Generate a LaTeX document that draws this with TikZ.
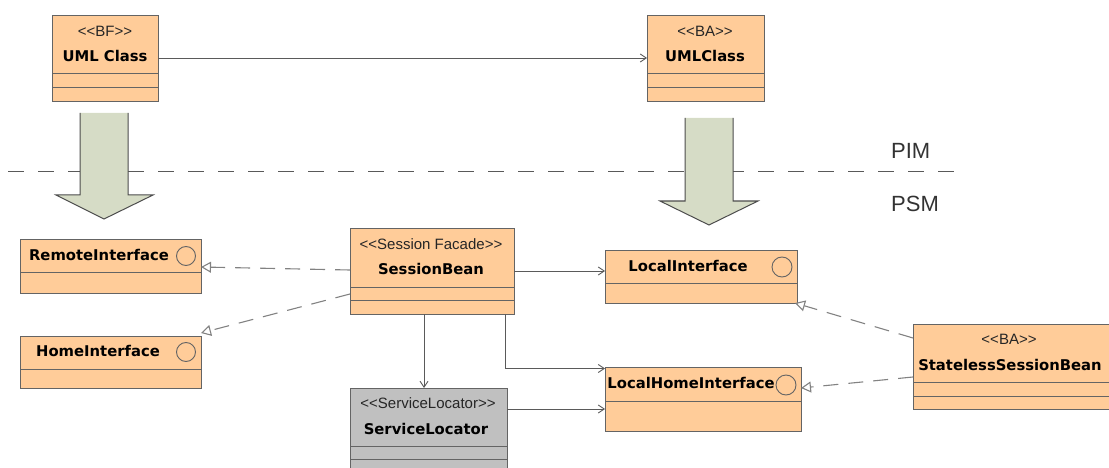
\documentclass[tikz,border=0pt]{standalone}
\usepackage{fontspec}
\setmainfont{Liberation Sans}
\newfontfamily\namefamily{DejaVu Sans}
\usetikzlibrary{arrows.meta}

\definecolor{peach}{RGB}{255,204,153}
\definecolor{boxline}{RGB}{100,100,100}
\definecolor{linegray}{RGB}{90,90,90}
\definecolor{dashgray}{RGB}{130,130,130}
\definecolor{bigfill}{RGB}{214,220,198}
\definecolor{locgray}{RGB}{192,192,192}

% stereotype text with guillemet-free double chevrons
\newcommand\stereo[1]{<\kern0pt<#1>\kern0pt>}
% horizontal compartment separator inside a class box
\newcommand\compline[2]{\draw[comp] ([yshift=-#2pt]#1.north west) -- ([yshift=-#2pt]#1.north east);}

\begin{document}
\begin{tikzpicture}[x=1pt,y=-1pt,
  cls/.style={draw=boxline, fill=peach, line width=0.9pt, inner sep=0pt, outer sep=0pt, anchor=north west},
  comp/.style={draw=boxline, line width=0.9pt},
  nm/.style={font=\namefamily\bfseries\fontsize{14.8}{17}\selectfont, inner sep=0pt},
  st/.style={font=\fontsize{15}{17}\selectfont, text=black!85, inner sep=0pt},
  iface/.style={circle, draw=boxline, line width=0.9pt, minimum size=19pt, inner sep=0pt},
  assoc/.style={draw=linegray, line width=0.9pt, -{Straight Barb[length=6pt,width=8pt]}},
  real/.style={draw=dashgray, line width=1.1pt, dash pattern=on 15pt off 10pt,
    -{Triangle[open,length=10pt,width=11pt,fill=white]}},
  layer/.style={draw=black!65, line width=1pt, dash pattern=on 16pt off 14pt},
  bigarrow/.style={fill=bigfill, draw=black!70, line width=1pt, line join=miter},
  lvl/.style={font=\fontsize{22}{24}\selectfont, text=black!80, inner sep=0pt, anchor=west}]

\useasboundingbox (0,0) rectangle (1109,468);
\clip (0,0) rectangle (1109,468);

% PIM / PSM separator
\draw[layer] (8,172) -- (960,172);
\node[lvl] (pim) at (891,151) {PIM};
\node[lvl] (psm) at (891,204) {PSM};

% transformation arrows
\fill[bigfill] (80,113) -- (128,113) -- (128,195) -- (153,195) -- (104,219) -- (56,195) -- (80,195) -- cycle;
\draw[bigarrow, fill=none] (80,113) -- (80,195) -- (56,195) -- (104,219) -- (153,195) -- (128,195) -- (128,113);
\fill[bigfill] (685,118) -- (733,118) -- (733,201) -- (758,201) -- (709,225) -- (660,201) -- (685,201) -- cycle;
\draw[bigarrow, fill=none] (685,118) -- (685,201) -- (660,201) -- (709,225) -- (758,201) -- (733,201) -- (733,118);

% class boxes
\node[cls, minimum width=106pt, minimum height=86pt] (bf) at (52,15) {};
\node[cls, minimum width=117pt, minimum height=86pt] (ba) at (647,15) {};
\node[cls, minimum width=181pt, minimum height=54pt] (ri) at (20,239) {};
\node[cls, minimum width=181pt, minimum height=52pt] (hi) at (20,336) {};
\node[cls, minimum width=164pt, minimum height=86pt] (sb) at (350,228) {};
\node[cls, fill=locgray, minimum width=157pt, minimum height=100pt] (sl) at (350,388) {};
\node[cls, minimum width=192pt, minimum height=53pt] (li) at (605,250) {};
\node[cls, minimum width=196pt, minimum height=64pt] (lhi) at (605,367) {};
\node[cls, minimum width=210pt, minimum height=85pt] (ssb) at (913,324) {};

\compline{bf}{58} \compline{bf}{72}
\compline{ba}{58} \compline{ba}{72}
\compline{ri}{33}
\compline{hi}{33}
\compline{sb}{59} \compline{sb}{72}
\compline{sl}{58} \compline{sl}{71}
\compline{li}{33}
\compline{lhi}{34}
\compline{ssb}{58} \compline{ssb}{72}

% stereotypes and class names
\node[st] (bfst) at (105,31) {\stereo{BF}};
\node[nm] (bfnm) at (105,56) {UML Class};
\node[st] (bast) at (705,31) {\stereo{BA}};
\node[nm] (banm) at (705,56) {UMLClass};
\node[nm] (rinm) at (99,255) {RemoteInterface};
\node[iface] (rici) at (186,256) {};
\node[nm] (hinm) at (98,351) {HomeInterface};
\node[iface] (hici) at (186,352) {};
\node[st] (sbst) at (431,244) {\stereo{Session Facade}};
\node[nm] (sbnm) at (431,269) {SessionBean};
\node[st] (slst) at (428,403) {\stereo{ServiceLocator}};
\node[nm] (slnm) at (426,429) {ServiceLocator};
\node[nm] (linm) at (688,266) {LocalInterface};
\node[iface, minimum size=20pt] (lici) at (782,267) {};
\node[nm] (lhinm) at (691,383) {LocalHomeInterface};
\node[iface, minimum size=20pt] (lhici) at (786,385) {};
\node[st] (ssbst) at (1009,339) {\stereo{BA}};
\node[nm] (ssbnm) at (1010,365) {StatelessSessionBean};

% associations
\draw[assoc] (bf.east) -- (bf.east -| ba.west);
\draw[assoc] (sb.east) -- (sb.east -| li.west);
\draw[assoc] ([xshift=-9pt]sb.south east) |- ([yshift=-1.5pt]lhi.north west);
\draw[assoc] ([xshift=74pt]sb.south west) -- ([xshift=74pt]sl.north west);
\draw[assoc] ([yshift=-21pt]sl.north east) -- ([yshift=-21pt]sl.north east -| lhi.west);

% realizations
\draw[real] ([yshift=-42pt]sb.north west) -- ([yshift=-28pt]ri.north east);
\draw[real] ([yshift=-66pt]sb.north west) -- ([yshift=3pt]hi.north east);
\draw[real] ([yshift=-14pt]ssb.north west) -- ([xshift=-2pt]li.south east);
\draw[real] ([yshift=-53pt]ssb.north west) -- ([yshift=-21pt]lhi.north east);
\end{tikzpicture}
\end{document}
